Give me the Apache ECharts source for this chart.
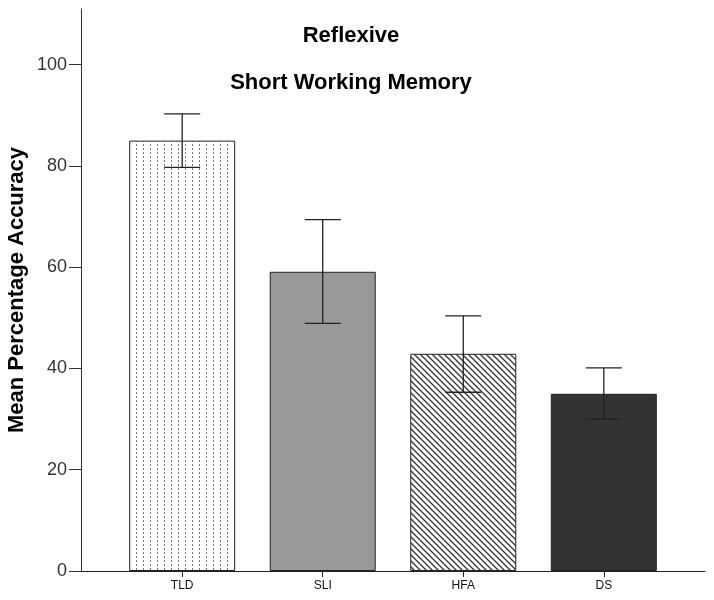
<!DOCTYPE html>
<html>
<head>
<meta charset="utf-8">
<script src="https://cdn.jsdelivr.net/npm/echarts@6/dist/echarts.min.js"></script>
<style>
  html, body { margin: 0; padding: 0; background: #fff; }
  #chart { width: 714px; height: 600px; }
</style>
</head>
<body>
<div id="chart"></div>
<script>
// 数据
const groups = ['TLD', 'SLI', 'HFA', 'DS']
const means = [85.0, 59.1, 42.9, 35.0]
const errLow = [79.7, 48.9, 35.3, 30.0]
const errHigh = [90.3, 69.4, 50.4, 40.1]
const yTicks = [0, 20, 40, 60, 80, 100]

// 填充图案
function dotPattern() {
    const c = document.createElement('canvas')
    c.width = 7
    c.height = 4
    const ctx = c.getContext('2d')
    ctx.fillStyle = '#fff'
    ctx.fillRect(0, 0, 7, 4)
    ctx.fillStyle = '#777'
    ctx.fillRect(3, 0, 1, 2)
    return c
}
function hatchPattern() {
    const c = document.createElement('canvas')
    c.width = 6
    c.height = 6
    const ctx = c.getContext('2d')
    ctx.fillStyle = '#fff'
    ctx.fillRect(0, 0, 6, 6)
    ctx.strokeStyle = '#333'
    ctx.lineWidth = 1.3
    ctx.beginPath()
    ctx.moveTo(-1, -1); ctx.lineTo(7, 7)
    ctx.moveTo(-4, 2); ctx.lineTo(4, 10)
    ctx.moveTo(2, -4); ctx.lineTo(10, 4)
    ctx.stroke()
    return c
}

const fills = [
    { image: dotPattern(), repeat: 'repeat' },
    '#999999',
    { image: hatchPattern(), repeat: 'repeat' },
    '#333333'
]

function chart() {
    const el = document.querySelector('#chart')
    const myChart = echarts.init(el)
    const titleFont = { fontFamily: 'Liberation Sans', fontSize: 22, fontWeight: 'bold', color: '#000' }
    const option = {
        animation: false,
        title: [
            { text: 'Reflexive', left: 346, top: 20, textAlign: 'center', textStyle: titleFont },
            { text: 'Short Working Memory', left: 346, top: 67, textAlign: 'center', textStyle: titleFont }
        ],
        grid: { left: 81, right: 9, top: 9, bottom: 29, outerBoundsMode: 'none' },
        xAxis: {
            type: 'value',
            min: -0.72,
            max: 3.72,
            splitLine: { show: false },
            axisLine: { show: true, onZero: false, lineStyle: { color: '#222', width: 1 } },
            axisTick: { show: true, customValues: [0, 1, 2, 3], length: 6, lineStyle: { color: '#222' } },
            axisLabel: {
                customValues: [0, 1, 2, 3],
                formatter: v => groups[Math.round(v)],
                fontFamily: 'Liberation Sans', fontSize: 12, color: '#111', margin: 9
            }
        },
        yAxis: {
            type: 'value',
            min: 0,
            max: 111,
            interval: 20,
            name: 'Mean Percentage Accuracy',
            nameLocation: 'middle',
            nameGap: 53,
            nameMoveOverlap: false,
            nameTextStyle: titleFont,
            splitLine: { show: false },
            axisLine: { show: true, onZero: false, lineStyle: { color: '#333', width: 1 } },
            axisTick: { show: true, length: 12, lineStyle: { color: '#333' } },
            axisLabel: {
                showMaxLabel: false,
                fontFamily: 'Liberation Sans', fontSize: 18, color: '#333', margin: 14
            }
        },
        series: [
            {
                type: 'bar',
                barWidth: 106,
                data: means.map((m, i) => ({
                    value: [i, m],
                    itemStyle: { color: fills[i], borderColor: '#222', borderWidth: 1 }
                }))
            },
            {
                type: 'custom',
                data: groups.map((g, i) => [i, errLow[i], errHigh[i]]),
                renderItem: function (params, api) {
                    const lo = api.coord([api.value(0), api.value(1)])
                    const hi = api.coord([api.value(0), api.value(2)])
                    const half = 18
                    const style = { stroke: '#222', lineWidth: 1.3 }
                    return {
                        type: 'group',
                        children: [
                            { type: 'line', shape: { x1: hi[0], y1: hi[1], x2: lo[0], y2: lo[1] }, style: style },
                            { type: 'line', shape: { x1: hi[0] - half, y1: hi[1], x2: hi[0] + half, y2: hi[1] }, style: style },
                            { type: 'line', shape: { x1: lo[0] - half, y1: lo[1], x2: lo[0] + half, y2: lo[1] }, style: style }
                        ]
                    }
                },
                z: 5
            }
        ]
    }
    myChart.setOption(option)
}
chart()
</script>
</body>
</html>
